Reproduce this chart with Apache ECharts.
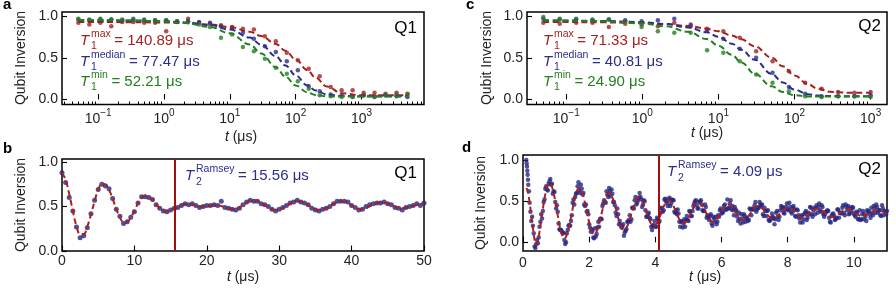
<!DOCTYPE html>
<html>
<head>
<meta charset="utf-8">
<script src="https://cdn.jsdelivr.net/npm/echarts@6/dist/echarts.min.js"></script>
<style>
html,body{margin:0;padding:0;background:#fff;}
#chart{width:896px;height:292px;}
</style>
</head>
<body>
<div id="chart"></div>
<script>
// ---------------- DATA ----------------
// Panel a : Q1 T1 decay (log time axis)
const t1Q1Time = [0.05,0.0734,0.108,0.158,0.232,0.341,0.5,0.734,1.08,1.58,2.32,3.41,5,7.34,10.8,15.8,23.2,34.1,50,73.4,108,158,232,341,500,734,1080,1580,2320,3410,5000];
const t1Q1Max    = [0.92,0.90,0.92,0.88,0.93,0.93,0.92,0.92,0.82,0.93,0.97,0.92,0.91,0.89,0.87,0.85,0.84,0.76,0.70,0.56,0.47,0.37,0.28,0.15,0.11,0.11,0.08,0.08,0.07,0.08,0.07];
const t1Q1Median = [0.96,0.95,0.96,0.96,0.95,0.96,0.95,0.95,0.95,0.94,0.94,0.93,0.92,0.88,0.86,0.80,0.73,0.64,0.57,0.46,0.35,0.16,0.10,0.06,0.05,0.03,0.05,0.03,0.05,0.04,0.03];
const t1Q1Min    = [0.97,0.96,0.97,0.96,0.96,0.97,0.96,0.95,0.95,0.94,0.93,0.90,0.87,0.74,0.78,0.63,0.58,0.49,0.38,0.31,0.22,0.13,0.05,0.04,0.03,0.04,0.05,0.04,0.05,0.06,0.06];
const t1Q1FitTime   = [0.05,0.1,0.3,1,2,5,10,20,30,50,70,100,150,200,300,500,1000,2000,5000];
const t1Q1MaxFit    = [0.930,0.930,0.928,0.924,0.918,0.899,0.869,0.814,0.761,0.667,0.585,0.483,0.354,0.263,0.155,0.075,0.051,0.050,0.050];
const t1Q1MedianFit = [0.950,0.949,0.946,0.938,0.927,0.893,0.840,0.743,0.658,0.518,0.409,0.290,0.171,0.109,0.059,0.041,0.040,0.040,0.040];
const t1Q1MinFit    = [0.955,0.953,0.950,0.937,0.920,0.871,0.794,0.661,0.553,0.388,0.274,0.169,0.087,0.055,0.038,0.035,0.035,0.035,0.035];
const t1Q1Values = [140.89, 77.47, 52.21];

// Panel c : Q2 T1 decay (log time axis)
const t1Q2Time = [0.05,0.082,0.135,0.221,0.363,0.596,0.978,1.6,2.63,4.32,7.09,11.6,19.1,31.3,51.4,84.4,138,227,373,612,1000];
const t1Q2Max    = [0.92,0.91,0.92,0.92,0.87,0.91,0.90,0.88,0.92,0.88,0.85,0.82,0.74,0.58,0.46,0.34,0.20,0.13,0.09,0.08,0.09];
const t1Q2Median = [0.97,0.96,0.96,0.95,0.96,0.95,0.94,0.95,0.97,0.90,0.83,0.73,0.61,0.50,0.32,0.15,0.07,0.04,0.04,0.04,0.05];
const t1Q2Min    = [0.99,0.97,0.97,0.96,0.96,0.94,0.87,0.82,0.80,0.80,0.59,0.56,0.46,0.30,0.20,0.10,0.04,0.03,0.04,0.04,0.03];
const t1Q2FitTime   = [0.05,0.1,0.3,1,2,4,7,10,15,20,30,50,70,100,150,200,300,500,1000];
const t1Q2MaxFit    = [0.930,0.929,0.926,0.918,0.907,0.883,0.850,0.819,0.769,0.722,0.638,0.502,0.399,0.289,0.184,0.131,0.092,0.081,0.080];
const t1Q2MedianFit = [0.950,0.948,0.943,0.928,0.906,0.865,0.807,0.752,0.670,0.597,0.476,0.307,0.204,0.119,0.063,0.047,0.041,0.040,0.040];
const t1Q2MinFit    = [0.950,0.946,0.939,0.914,0.879,0.814,0.726,0.647,0.536,0.445,0.309,0.158,0.090,0.052,0.037,0.035,0.035,0.035,0.035];
const t1Q2Values = [71.33, 40.81, 24.90];

// Panel b : Q1 Ramsey
const ramseyQ1Time = [0,0.5,1,1.5,2,2.5,3,3.5,4,4.5,5,5.5,6,6.5,7,7.5,8,8.5,9,9.5,10,10.5,11,11.5,12,12.5,13,13.5,14,14.5,15,15.5,16,16.5,17,17.5,18,18.5,19,19.5,20,20.5,21,21.5,22,22.5,23,23.5,24,24.5,25,25.5,26,26.5,27,27.5,28,28.5,29,29.5,30,30.5,31,31.5,32,32.5,33,33.5,34,34.5,35,35.5,36,36.5,37,37.5,38,38.5,39,39.5,40,40.5,41,41.5,42,42.5,43,43.5,44,44.5,45,45.5,46,46.5,47,47.5,48,48.5,49,49.5,50];
const ramseyQ1Inv = [
  0.88,0.77,0.60,0.45,0.27,0.15,0.17,0.26,0.42,0.57,
  0.69,0.75,0.73,0.70,0.59,0.47,0.39,0.31,0.33,0.38,
  0.44,0.54,0.61,0.61,0.60,0.58,0.52,0.48,0.45,0.44,
  0.46,0.48,0.49,0.51,0.53,0.52,0.53,0.51,0.49,0.50,
  0.51,0.51,0.52,0.51,0.56,0.49,0.48,0.47,0.46,0.48,
  0.52,0.55,0.57,0.56,0.56,0.53,0.52,0.50,0.47,0.45,
  0.47,0.49,0.51,0.54,0.55,0.57,0.55,0.54,0.52,0.48,
  0.46,0.45,0.47,0.48,0.50,0.53,0.56,0.56,0.56,0.55,
  0.51,0.49,0.46,0.47,0.50,0.52,0.53,0.54,0.54,0.55,
  0.53,0.52,0.49,0.48,0.46,0.49,0.50,0.51,0.53,0.51,0.54];
const ramseyQ1Fit = [
  0.88,0.80,0.64,0.45,0.28,0.19,0.19,0.276,0.41,0.56,
  0.686,0.754,0.749,0.687,0.586,0.472,0.376,0.325,0.328,0.376,
  0.453,0.535,0.597,0.62,0.607,0.572,0.525,0.482,0.455,0.451,
  0.461,0.479,0.501,0.519,0.529,0.528,0.52,0.51,0.503,0.50,
  0.50,0.505,0.513,0.515,0.505,0.495,0.48,0.471,0.473,0.489,
  0.514,0.542,0.562,0.57,0.563,0.544,0.518,0.491,0.47,0.46,
  0.464,0.481,0.505,0.53,0.55,0.56,0.556,0.539,0.515,0.49,
  0.47,0.46,0.464,0.481,0.505,0.53,0.55,0.56,0.555,0.538,
  0.512,0.488,0.473,0.471,0.483,0.503,0.526,0.543,0.55,0.545,
  0.531,0.513,0.495,0.483,0.48,0.485,0.494,0.506,0.518,0.527,0.53];

// Panel d : Q2 Ramsey
const ramseyQ2Time = [
  0.1,0.11,0.12,0.13,0.14,0.15,0.16,0.18,
  0.2,0.25,0.3,0.35,
  0.4,0.45,0.5,0.55,0.6,0.65,0.7,0.75,0.8,
  0.85,0.9,0.95,1,1.05,1.1,1.15,1.2,1.25,
  1.3,1.35,1.4,1.45,1.5,1.55,1.6,1.65,1.7,
  1.75,1.8,1.85,1.9,1.95,2,2.05,2.1,2.15,
  2.2,2.25,2.3,2.35,2.4,2.45,2.5,2.55,2.6,
  2.65,2.7,2.75,2.8,2.85,2.9,2.95,3,3.05,
  3.1,3.15,3.2,3.25,3.3,3.35,3.4,3.45,3.5,
  3.55,3.6,3.65,3.7,3.75,3.8,3.85,3.9,3.95,
  4,4.05,4.1,4.15,4.2,4.25,4.3,4.35,4.4,
  4.45,4.5,4.55,4.6,4.65,4.7,4.75,4.8,4.85,
  4.9,4.95,5,5.05,5.1,5.15,5.2,5.25,5.3,
  5.35,5.4,5.45,5.5,5.55,5.6,5.65,5.7,5.75,
  5.8,5.85,5.9,5.95,6,6.05,6.1,6.15,6.2,
  6.25,6.3,6.35,6.4,6.45,6.5,6.55,6.6,6.65,
  6.7,6.75,6.8,6.85,6.9,6.95,7,7.05,7.1,
  7.15,7.2,7.25,7.3,7.35,7.4,7.45,7.5,7.55,
  7.6,7.65,7.7,7.75,7.8,7.85,7.9,7.95,8,
  8.05,8.1,8.15,8.2,8.25,8.3,8.35,8.4,8.45,
  8.5,8.55,8.6,8.65,8.7,8.75,8.8,8.85,8.9,
  8.95,9,9.05,9.1,9.15,9.2,9.25,9.3,9.35,
  9.4,9.45,9.5,9.55,9.6,9.65,9.7,9.75,9.8,
  9.85,9.9,9.95,10,10.05,10.1,10.15,10.2,10.25,
  10.3,10.35,10.4,10.45,10.5,10.55,10.6,10.65,10.7,
  10.75,10.8,10.85,10.9,10.95,11];
const ramseyQ2Inv = [
  1.00,0.96,0.92,0.87,0.82,0.76,0.70,0.62,
  0.48,0.26,0.20,-0.05,
  -0.02,-0.01,0.19,0.34,0.38,0.52,0.68,0.63,0.74,
  0.70,0.59,0.61,0.41,0.37,0.16,0.15,0.12,0.03,
  0.00,0.15,0.21,0.26,0.48,0.46,0.59,0.68,0.63,
  0.70,0.58,0.46,0.46,0.38,0.22,0.13,0.14,0.05,
  0.07,0.18,0.19,0.29,0.44,0.51,0.48,0.58,0.66,
  0.56,0.59,0.49,0.36,0.41,0.22,0.21,0.19,0.08,
  0.14,0.25,0.27,0.25,0.42,0.41,0.55,0.48,0.54,
  0.55,0.43,0.51,0.39,0.31,0.36,0.28,0.15,0.21,
  0.19,0.30,0.24,0.36,0.41,0.39,0.53,0.48,0.52,
  0.44,0.52,0.51,0.36,0.34,0.35,0.19,0.26,0.23,
  0.19,0.32,0.26,0.37,0.32,0.44,0.50,0.45,0.41,
  0.50,0.46,0.38,0.46,0.30,0.31,0.32,0.23,0.31,
  0.25,0.22,0.33,0.39,0.35,0.37,0.46,0.40,0.41,
  0.47,0.40,0.39,0.43,0.38,0.26,0.28,0.34,0.24,
  0.32,0.29,0.26,0.41,0.33,0.41,0.45,0.37,0.42,
  0.49,0.44,0.34,0.42,0.32,0.39,0.26,0.30,0.31,
  0.22,0.36,0.31,0.31,0.44,0.43,0.35,0.43,0.40,
  0.48,0.37,0.42,0.40,0.31,0.39,0.29,0.31,0.24,
  0.34,0.38,0.30,0.34,0.42,0.31,0.42,0.41,0.36,
  0.47,0.37,0.43,0.31,0.37,0.39,0.30,0.24,0.34,
  0.32,0.28,0.40,0.30,0.36,0.42,0.36,0.46,0.39,
  0.34,0.42,0.43,0.35,0.31,0.36,0.28,0.27,0.34,
  0.28,0.31,0.39,0.38,0.30,0.36,0.44,0.36,0.43,
  0.39,0.33,0.45,0.33,0.37,0.38];
// second, interleaved set of Q2 Ramsey shots
const ramseyQ2TimeB = [
  0.225,0.275,0.325,0.375,0.425,0.475,0.525,0.575,0.625,0.675,0.725,0.775,0.825,
  0.875,0.925,0.975,1.025,1.075,1.125,1.175,1.225,
  1.275,1.325,1.375,1.425,1.475,1.525,1.575,1.625,1.675,
  1.725,1.775,1.825,1.875,1.925,1.975,2.025,2.075,2.125,
  2.175,2.225,2.275,2.325,2.375,2.425,2.475,2.525,2.575,
  2.625,2.675,2.725,2.775,2.825,2.875,2.925,2.975,3.025,
  3.075,3.125,3.175,3.225,3.275,3.325,3.375,3.425,3.475,
  3.525,3.575,3.625,3.675,3.725,3.775,3.825,3.875,3.925,
  3.975,4.025,4.075,4.125,4.175,4.225,4.275,4.325,4.375,
  4.425,4.475,4.525,4.575,4.625,4.675,4.725,4.775,4.825,
  4.875,4.925,4.975,5.025,5.075,5.125,5.175,5.225,5.275,
  5.325,5.375,5.425,5.475,5.525,5.575,5.625,5.675,5.725,
  5.775,5.825,5.875,5.925,5.975,6.025,6.075,6.125,6.175,
  6.225,6.275,6.325,6.375,6.425,6.475,6.525,6.575,6.625,
  6.675,6.725,6.775,6.825,6.875,6.925,6.975,7.025,7.075,
  7.125,7.175,7.225,7.275,7.325,7.375,7.425,7.475,7.525,
  7.575,7.625,7.675,7.725,7.775,7.825,7.875,7.925,7.975,
  8.025,8.075,8.125,8.175,8.225,8.275,8.325,8.375,8.425,
  8.475,8.525,8.575,8.625,8.675,8.725,8.775,8.825,8.875,
  8.925,8.975,9.025,9.075,9.125,9.175,9.225,9.275,9.325,
  9.375,9.425,9.475,9.525,9.575,9.625,9.675,9.725,9.775,
  9.825,9.875,9.925,9.975,10.025,10.075,10.125,10.175,10.225,
  10.275,10.325,10.375,10.425,10.475,10.525,10.575,10.625,10.675,
  10.725,10.775,10.825,10.875,10.925,10.975];
const ramseyQ2InvB = [
  0.37,0.31,0.11,-0.07,0.03,0.06,0.25,0.29,0.49,0.65,0.64,0.71,0.77,
  0.71,0.62,0.49,0.45,0.23,0.15,0.13,0.11,
  -0.02,0.11,0.20,0.20,0.33,0.52,0.55,0.60,0.73,
  0.60,0.65,0.60,0.44,0.37,0.34,0.18,0.16,0.06,
  0.17,0.10,0.25,0.28,0.28,0.47,0.49,0.62,0.55,
  0.62,0.64,0.49,0.45,0.32,0.34,0.26,0.18,0.22,
  0.12,0.16,0.25,0.33,0.28,0.42,0.51,0.46,0.51,
  0.60,0.52,0.46,0.50,0.31,0.34,0.30,0.19,0.20,
  0.26,0.19,0.28,0.26,0.42,0.37,0.52,0.50,0.44,
  0.54,0.47,0.51,0.37,0.39,0.40,0.25,0.25,0.18,
  0.28,0.27,0.27,0.38,0.32,0.38,0.47,0.51,0.41,
  0.49,0.51,0.39,0.38,0.43,0.33,0.27,0.34,0.20,
  0.29,0.31,0.25,0.31,0.41,0.36,0.44,0.40,0.52,
  0.42,0.51,0.44,0.33,0.40,0.31,0.36,0.23,0.29,
  0.34,0.25,0.30,0.27,0.40,0.40,0.40,0.49,0.40,
  0.42,0.46,0.46,0.32,0.38,0.38,0.27,0.27,0.35,
  0.29,0.28,0.38,0.27,0.39,0.42,0.36,0.40,0.47,
  0.39,0.43,0.35,0.44,0.32,0.40,0.33,0.24,0.33,
  0.28,0.36,0.27,0.36,0.43,0.34,0.39,0.34,0.45,
  0.43,0.39,0.45,0.34,0.34,0.37,0.38,0.25,0.32,
  0.35,0.27,0.30,0.40,0.36,0.35,0.45,0.33,0.43,
  0.44,0.35,0.38,0.42,0.33,0.37,0.28,0.39,0.28,
  0.38,0.34,0.26,0.37,0.34,0.42,0.33,0.41,0.46,
  0.36,0.39,0.32,0.41,0.38,0.34];
const ramseyQ2Fit = [
  0.66,0.655,0.645,0.635,0.62,0.605,0.585,0.54,
  0.48,0.33,0.17,0.03,
  -0.03,0.03,0.13,0.274,0.406,0.53,0.631,0.697,0.72,
  0.70,0.642,0.553,0.443,0.327,0.218,0.128,0.07,0.05,
  0.068,0.121,0.203,0.302,0.408,0.508,0.589,0.642,0.66,
  0.643,0.594,0.52,0.429,0.331,0.24,0.166,0.117,0.10,
  0.115,0.159,0.225,0.307,0.394,0.475,0.542,0.585,0.60,
  0.587,0.547,0.488,0.414,0.336,0.263,0.203,0.164,0.15,
  0.162,0.196,0.248,0.311,0.379,0.443,0.494,0.528,0.54,
  0.53,0.50,0.455,0.40,0.34,0.285,0.24,0.21,0.20,
  0.209,0.236,0.278,0.328,0.382,0.433,0.474,0.501,0.51,
  0.502,0.477,0.44,0.394,0.346,0.30,0.263,0.238,0.23,
  0.238,0.259,0.293,0.333,0.377,0.418,0.451,0.473,0.48,
  0.473,0.453,0.423,0.385,0.345,0.308,0.277,0.257,0.25,
  0.256,0.275,0.303,0.337,0.373,0.408,0.435,0.454,0.46,
  0.454,0.438,0.413,0.382,0.348,0.318,0.292,0.276,0.27,
  0.275,0.29,0.313,0.34,0.37,0.398,0.42,0.435,0.44,
  0.435,0.422,0.403,0.378,0.352,0.328,0.308,0.295,0.29,
  0.294,0.305,0.323,0.344,0.366,0.388,0.405,0.416,0.42,
  0.416,0.406,0.39,0.37,0.35,0.33,0.314,0.304,0.30,
  0.303,0.313,0.328,0.345,0.365,0.383,0.397,0.407,0.41,
  0.407,0.398,0.385,0.369,0.351,0.335,0.322,0.313,0.31,
  0.313,0.321,0.333,0.347,0.363,0.378,0.39,0.397,0.40,
  0.398,0.391,0.38,0.367,0.353,0.34,0.329,0.322,0.32,
  0.322,0.328,0.338,0.349,0.361,0.373,0.382,0.388,0.39,
  0.388,0.383,0.375,0.365,0.355,0.345];
const t2RamseyQ1 = 15.56;
const t2RamseyQ2 = 4.09;

// tick labels
const logTicks = [0.1, 1, 10, 100, 1000];
const inversionTicks = [0, 0.5, 1];
const ramseyQ1Ticks = [0, 10, 20, 30, 40, 50];
const ramseyQ2Ticks = [0, 2, 4, 6, 8, 10];

// --------------- STYLE ---------------
const FONT = "'Liberation Sans', Arial, Helvetica, sans-serif";
const RED = '#a61f1f', BLUE = '#2c2c8c', GREEN = '#22801e';
const NAVY = '#25257f', FITRED = '#b01e1a', VLINE = '#a0100e';
const TXT = '#222';

function zip(xs, ys) {
  if (xs.length !== ys.length) throw new Error('length mismatch ' + xs.length + ' vs ' + ys.length);
  return xs.map((x, i) => [x, ys[i]]);
}

const mctx = document.createElement('canvas').getContext('2d');
function tw(s, fs, st) { mctx.font = (st || '') + ' ' + fs + 'px ' + FONT; return mctx.measureText(s).width; }

function gtext(x, baseline, s, fs, color, extra) {
  return {
    type: 'text', x: x, y: baseline - 0.35 * fs, silent: true, z: 100,
    style: Object.assign({
      text: s, fontSize: fs, fontFamily: FONT, fill: color,
      align: 'left', verticalAlign: 'middle', textAlign: 'left', textVerticalAlign: 'middle'
    }, extra || {})
  };
}

function mathLabel(x, base, sub, sup, rest, color, subDy) {
  const FS = 15, SS = 10.5;
  const sx = x + 11;
  const w = Math.max(tw(sup, SS), tw(sub, SS));
  return [
    gtext(x, base, 'T', FS, color, { fontStyle: 'italic' }),
    gtext(sx, base - 8.5, sup, SS, color),
    gtext(sx, base + subDy, sub, SS, color),
    gtext(sx + w + 3.5, base, rest, FS, color)
  ];
}

function minorLogTicks(min, max) {
  const out = [];
  for (let k = -3; k <= 4; k++) {
    for (let m = 2; m <= 9; m++) {
      const v = Number((m * Math.pow(10, k)).toPrecision(3));
      if (v > min && v < max) out.push(v);
    }
  }
  return out;
}

const tickLabelStyle = { color: TXT, fontFamily: FONT, fontSize: 14 };

function logMajorAxis(gridIndex, min, max) {
  return {
    type: 'log', logBase: 10, gridIndex, min, max, position: 'bottom',
    axisLine: { show: false },
    splitLine: { show: false },
    axisTick: { show: true, inside: true, length: 5.5, customValues: logTicks, lineStyle: { color: '#000', width: 1.1 } },
    axisLabel: {
      customValues: logTicks, margin: 4,
      formatter: function (v) {
        const e = Math.round(Math.log10(v));
        return '{b|10}{s|' + (e < 0 ? '\u2212' + (-e) : String(e)) + '}';
      },
      rich: {
        b: { fontSize: 14, fontFamily: FONT, color: TXT, lineHeight: 18, verticalAlign: 'bottom' },
        s: { fontSize: 10, fontFamily: FONT, color: TXT, lineHeight: 10, verticalAlign: 'top' }
      }
    }
  };
}
function logMinorAxis(gridIndex, min, max) {
  return {
    type: 'log', logBase: 10, gridIndex, min, max, position: 'bottom',
    axisLine: { show: false }, splitLine: { show: false },
    axisTick: { show: true, inside: true, length: 3, customValues: minorLogTicks(min, max), lineStyle: { color: '#000', width: 1 } },
    axisLabel: { show: false }
  };
}
function linAxis(gridIndex, min, max, ticks, margin) {
  return {
    type: 'value', gridIndex, min, max, position: 'bottom',
    axisLine: { show: false }, splitLine: { show: false },
    axisTick: { show: true, inside: true, length: 5.5, customValues: ticks, lineStyle: { color: '#000', width: 1.1 } },
    axisLabel: Object.assign({ customValues: ticks, margin: margin }, tickLabelStyle)
  };
}
function yAxis(gridIndex, min, max) {
  return {
    type: 'value', gridIndex, min, max,
    axisLine: { show: false }, splitLine: { show: false },
    axisTick: { show: true, inside: true, length: 5, customValues: inversionTicks, lineStyle: { color: '#000', width: 1.1 } },
    axisLabel: Object.assign({ customValues: inversionTicks, margin: 4, formatter: v => Number(v).toFixed(1) }, tickLabelStyle)
  };
}

const gridBase = { show: true, borderColor: '#000', borderWidth: 1.5, backgroundColor: 'rgba(0,0,0,0)' };
const grids = [
  Object.assign({ left: 62, top: 12, width: 362, height: 92.5 }, gridBase),
  Object.assign({ left: 62, top: 159, width: 362, height: 92 }, gridBase),
  Object.assign({ left: 527, top: 12, width: 360, height: 92.5 }, gridBase),
  Object.assign({ left: 523, top: 155, width: 364, height: 96 }, gridBase)
];

const A_MIN = 0.0282, A_MAX = 8913, C_MIN = 0.0305, C_MAX = 1641;
const xAxes = [
  logMajorAxis(0, A_MIN, A_MAX), logMinorAxis(0, A_MIN, A_MAX),
  linAxis(1, 0, 50, ramseyQ1Ticks, 3),
  logMajorAxis(2, C_MIN, C_MAX), logMinorAxis(2, C_MIN, C_MAX),
  linAxis(3, 0, 11, ramseyQ2Ticks, 5)
];
const yAxes = [yAxis(0, -0.06, 1.05), yAxis(1, 0, 1.034), yAxis(2, -0.06, 1.05), yAxis(3, -0.105, 1.06)];

function dots(xi, yi, data, color, size) {
  return { type: 'scatter', xAxisIndex: xi, yAxisIndex: yi, data: data, symbol: 'circle', symbolSize: size, itemStyle: { color: color }, silent: true, z: 3 };
}
function fitLine(xi, yi, t, v, color, smooth, mono) {
  const s = { type: 'line', xAxisIndex: xi, yAxisIndex: yi, data: zip(t, v), symbol: 'none', showSymbol: false, smooth: smooth, lineStyle: { color: color, width: 2, type: [6, 3.5] }, silent: true, z: 4 };
  if (mono) s.smoothMonotone = 'x';
  return s;
}
function vline(value) {
  return { silent: true, symbol: ['none', 'none'], label: { show: false }, animation: false,
    lineStyle: { color: VLINE, width: 2, type: 'solid' }, data: [{ xAxis: value }] };
}

const series = [
  dots(0, 0, zip(t1Q1Time, t1Q1Max), RED, 4.5),
  dots(0, 0, zip(t1Q1Time, t1Q1Median), BLUE, 4.5),
  dots(0, 0, zip(t1Q1Time, t1Q1Min), GREEN, 4.5),
  fitLine(0, 0, t1Q1FitTime, t1Q1MaxFit, RED, 0.4, true),
  fitLine(0, 0, t1Q1FitTime, t1Q1MedianFit, BLUE, 0.4, true),
  fitLine(0, 0, t1Q1FitTime, t1Q1MinFit, GREEN, 0.4, true),

  dots(2, 1, zip(ramseyQ1Time, ramseyQ1Inv), NAVY, 5),
  Object.assign(fitLine(2, 1, ramseyQ1Time, ramseyQ1Fit, FITRED, 0.4, false), { markLine: vline(t2RamseyQ1) }),

  dots(3, 2, zip(t1Q2Time, t1Q2Max), RED, 4.5),
  dots(3, 2, zip(t1Q2Time, t1Q2Median), BLUE, 4.5),
  dots(3, 2, zip(t1Q2Time, t1Q2Min), GREEN, 4.5),
  fitLine(3, 2, t1Q2FitTime, t1Q2MaxFit, RED, 0.4, true),
  fitLine(3, 2, t1Q2FitTime, t1Q2MedianFit, BLUE, 0.4, true),
  fitLine(3, 2, t1Q2FitTime, t1Q2MinFit, GREEN, 0.4, true),

  dots(5, 3, zip(ramseyQ2Time, ramseyQ2Inv).concat(zip(ramseyQ2TimeB, ramseyQ2InvB)), NAVY, 4.5),
  Object.assign(fitLine(5, 3, ramseyQ2Time, ramseyQ2Fit, FITRED, 0.4, false), { markLine: vline(t2RamseyQ2) })
];

// ---------------- TEXT ----------------
const graphics = [];
graphics.push(gtext(3, 10, 'a', 15, '#000', { fontWeight: 'bold' }));
graphics.push(gtext(3, 154, 'b', 15, '#000', { fontWeight: 'bold' }));
graphics.push(gtext(466, 10, 'c', 15, '#000', { fontWeight: 'bold' }));
graphics.push(gtext(462, 153.5, 'd', 15, '#000', { fontWeight: 'bold' }));
const rightAl = { align: 'right', textAlign: 'right' };
graphics.push(gtext(417, 34.5, 'Q1', 17, '#000', rightAl));
graphics.push(gtext(417, 179.5, 'Q1', 17, '#000', rightAl));
graphics.push(gtext(881, 32, 'Q2', 17, '#000', rightAl));
graphics.push(gtext(881, 175, 'Q2', 17, '#000', rightAl));
[[21, 58], [21, 205], [487, 58], [481, 203]].forEach(p => {
  graphics.push({ type: 'text', x: p[0], y: p[1], rotation: Math.PI / 2, silent: true, z: 100,
    style: { text: 'Qubit Inversion', fontSize: 14, fontFamily: FONT, fill: TXT,
      align: 'center', verticalAlign: 'middle', textAlign: 'center', textVerticalAlign: 'middle' } });
});
[[241, 137.5], [243, 277.5], [707, 133.5], [705, 277.5]].forEach(p => {
  graphics.push({ type: 'text', x: p[0], y: p[1], silent: true, z: 100,
    style: { text: '{i|t} (\u03bcs)', fontSize: 14, fontFamily: FONT, fill: TXT,
      align: 'center', verticalAlign: 'middle', textAlign: 'center', textVerticalAlign: 'middle',
      rich: { i: { fontStyle: 'italic', fontSize: 14, fontFamily: FONT, fill: TXT, color: TXT } } } });
});
const supNames = ['max', 'median', 'min'];
const annColors = [RED, BLUE, GREEN];
const annBase = [46.5, 66.8, 87];
t1Q1Values.forEach((v, i) => {
  mathLabel(80, annBase[i], '1', supNames[i], '= ' + v.toFixed(2) + ' \u03bcs', annColors[i], 3.5).forEach(e => graphics.push(e));
});
t1Q2Values.forEach((v, i) => {
  mathLabel(543, annBase[i], '1', supNames[i], '= ' + v.toFixed(2) + ' \u03bcs', annColors[i], 3.5).forEach(e => graphics.push(e));
});
mathLabel(185, 181.5, '2', 'Ramsey', '= ' + t2RamseyQ1.toFixed(2) + ' \u03bcs', BLUE, 4.5).forEach(e => graphics.push(e));
mathLabel(667, 177, '2', 'Ramsey', '= ' + t2RamseyQ2.toFixed(2) + ' \u03bcs', BLUE, 4.5).forEach(e => graphics.push(e));

const option = {
  animation: false,
  backgroundColor: '#fff',
  grid: grids,
  xAxis: xAxes,
  yAxis: yAxes,
  series: series,
  graphic: { elements: graphics }
};

const chart = echarts.init(document.getElementById('chart'), null, { renderer: 'canvas' });
chart.setOption(option);
</script>
</body>
</html>
